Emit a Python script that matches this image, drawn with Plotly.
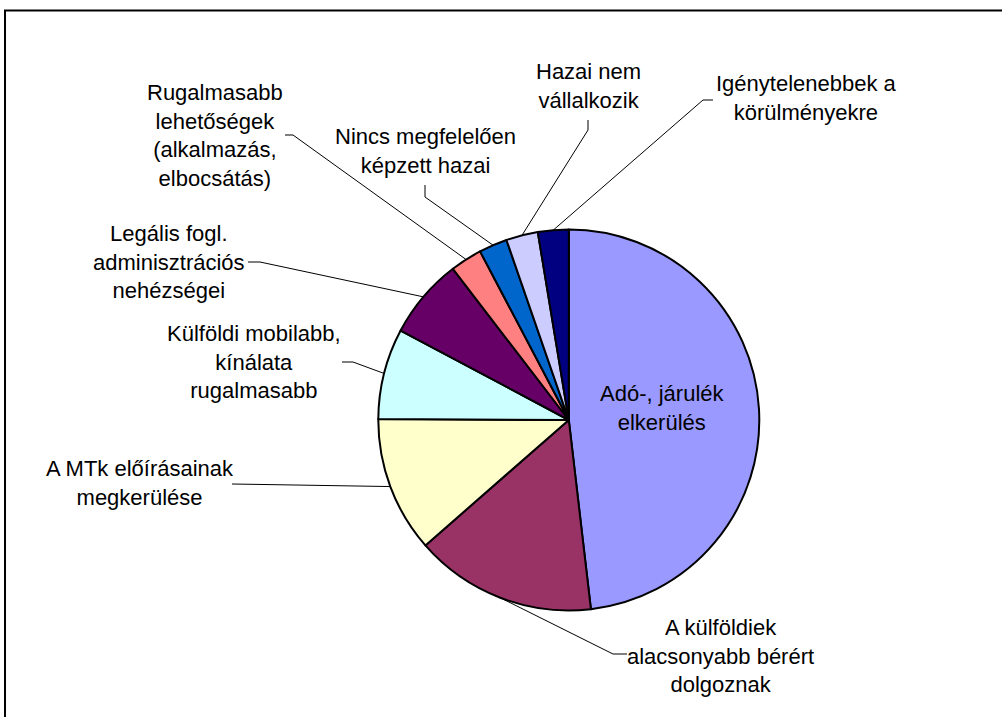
import math
import plotly.graph_objects as go

# ---- data (share of answers, %) ----
labels = [
    "Adó-, járulék<br>elkerülés",
    "A külföldiek<br>alacsonyabb bérért<br>dolgoznak",
    "A MTk előírásainak<br>megkerülése",
    "Külföldi mobilabb,<br>kínálata<br>rugalmasabb",
    "Legális fogl.<br>adminisztrációs<br>nehézségei",
    "Rugalmasabb<br>lehetőségek<br>(alkalmazás,<br>elbocsátás)",
    "Nincs megfelelően<br>képzett hazai",
    "Hazai nem<br>vállalkozik",
    "Igénytelenebbek a<br>körülményekre",
]
values = [48.1, 15.4, 11.5, 7.7, 6.8, 2.7, 2.4, 2.7, 2.6]
colors = ["#9999FF", "#993366", "#FFFFCC", "#CCFFFF", "#660066",
          "#FF8080", "#0066CC", "#CCCCFF", "#000080"]

# ---- layout (page pixels; body margin removed so figure starts at 0,0) ----
W, H = 1002, 717
CX, CY, R = 568.8, 420.0, 190.5

# label centres (px) and leader elbow / label-side point (px); None = inside label
label_pos = [(662, 408), (720, 656), (140, 483), (254, 362), (169, 262),
             (215, 135), (425, 151), (588, 86), (806, 98)]
leader_pts = [None,
              [(613, 654), (627, 654)],
              [(232, 484)],
              [(353, 362), (342, 362)],
              [(260, 262), (248, 262)],
              [(293, 135), (285, 135)],
              [(425, 197), (425, 185)],
              [(588, 130), (588, 120)],
              [(703, 100), (713, 100)]]


def px(x):
    return x / W


def py(y):
    return 1 - y / H


fig = go.Figure(go.Pie(
    values=values,
    labels=[l.replace("<br>", " ") for l in labels],
    marker=dict(colors=colors, line=dict(color="black", width=2)),
    sort=False,
    direction="clockwise",
    rotation=0,
    textinfo="none",
    hoverinfo="label+percent",
    showlegend=False,
    domain=dict(x=[px(CX - R), px(CX + R)], y=[py(CY + R), py(CY - R)]),
))

shapes = []
annotations = []
total = sum(values)
cum = 0.0
for i, v in enumerate(values):
    mid = (cum + v / 2) / total * 2 * math.pi
    cum += v
    ex = CX + R * math.sin(mid)
    ey = CY - R * math.cos(mid)
    lx, ly = label_pos[i]
    annotations.append(dict(
        x=px(lx), y=py(ly), xref="paper", yref="paper",
        text=labels[i], showarrow=False, xanchor="center", yanchor="middle",
        align="center", font=dict(family="Arial, Liberation Sans", size=22, color="black"),
    ))
    if leader_pts[i] is not None:
        pts = [(ex, ey)] + leader_pts[i]
        path = "M " + " L ".join(f"{px(x)},{py(y)}" for x, y in pts)
        shapes.append(dict(type="path", xref="paper", yref="paper", path=path,
                           line=dict(color="black", width=1)))

# chart frame
shapes.append(dict(type="rect", xref="paper", yref="paper",
                   x0=px(5), x1=px(1010), y0=py(730), y1=py(10.5),
                   line=dict(color="black", width=2)))

fig.update_layout(
    width=W, height=H,
    margin=dict(l=0, r=0, t=0, b=0),
    paper_bgcolor="white", plot_bgcolor="white",
    shapes=shapes, annotations=annotations,
    font=dict(family="Arial, Liberation Sans"),
)

fig.write_html(
    "out.html",
    config={"displayModeBar": False},
    post_script="document.body.style.margin='0';document.body.style.overflow='hidden';",
)
